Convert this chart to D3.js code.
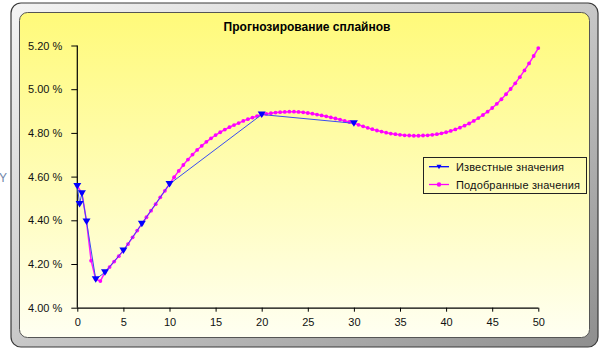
<!DOCTYPE html>
<html><head><meta charset="utf-8">
<script src="https://cdn.jsdelivr.net/npm/d3@7"></script>
<style>
html,body{margin:0;padding:0;background:#fff;}
svg{display:block;font-family:"Liberation Sans",Arial,sans-serif;}
</style></head>
<body>
<svg id="c" width="608" height="349"></svg>
<script>
const title = "Прогнозирование сплайнов";
const seriesNames = ["Известные значения", "Подобранные значения"];
const knownX = [0, 0.25, 0.5, 1, 2, 3, 5, 7, 10, 20, 30];
const knownY = [4.557, 4.475, 4.524, 4.395, 4.130, 4.162, 4.262, 4.384, 4.566, 4.884, 4.844];
const fitX = [0,0.5,1,1.5,2,2.5,3,3.5,4,4.5,5,5.5,6,6.5,7,7.5,8,8.5,9,9.5,10,10.5,11,11.5,12,12.5,13,13.5,14,14.5,15,15.5,16,16.5,17,17.5,18,18.5,19,19.5,20,20.5,21,21.5,22,22.5,23,23.5,24,24.5,25,25.5,26,26.5,27,27.5,28,28.5,29,29.5,30,30.5,31,31.5,32,32.5,33,33.5,34,34.5,35,35.5,36,36.5,37,37.5,38,38.5,39,39.5,40,40.5,41,41.5,42,42.5,43,43.5,44,44.5,45,45.5,46,46.5,47,47.5,48,48.5,49,49.5,50];
const fitY = [4.557,4.524,4.395,4.215,4.130,4.122,4.162,4.186,4.211,4.236,4.262,4.291,4.322,4.353,4.384,4.414,4.444,4.474,4.505,4.535,4.566,4.597,4.626,4.653,4.678,4.701,4.722,4.741,4.759,4.775,4.790,4.803,4.815,4.826,4.836,4.845,4.855,4.863,4.870,4.877,4.883,4.887,4.890,4.893,4.895,4.896,4.897,4.897,4.896,4.894,4.891,4.888,4.884,4.880,4.876,4.871,4.866,4.861,4.855,4.850,4.844,4.837,4.830,4.823,4.817,4.811,4.806,4.801,4.797,4.794,4.791,4.789,4.788,4.787,4.787,4.788,4.789,4.791,4.794,4.798,4.803,4.809,4.816,4.824,4.833,4.843,4.855,4.868,4.882,4.897,4.914,4.933,4.954,4.977,5.001,5.027,5.055,5.086,5.118,5.152,5.188];
const xTicks = [0,5,10,15,20,25,30,35,40,45,50];
const yTicks = [4.0,4.2,4.4,4.6,4.8,5.0,5.2];

const svg = d3.select("#c");
const defs = svg.append("defs");
const fg = defs.append("linearGradient").attr("id","frameG").attr("x1",0).attr("y1",0).attr("x2",1).attr("y2",1);
fg.append("stop").attr("offset","0%").attr("stop-color","#f4f4f4");
fg.append("stop").attr("offset","50%").attr("stop-color","#c8c8c8");
fg.append("stop").attr("offset","100%").attr("stop-color","#8e8e8e");
const yg = defs.append("linearGradient").attr("id","plotG").attr("x1",0).attr("y1",0).attr("x2",0).attr("y2",1);
yg.append("stop").attr("offset","0%").attr("stop-color","#fffa7a");
yg.append("stop").attr("offset","55%").attr("stop-color","#fffdba");
yg.append("stop").attr("offset","100%").attr("stop-color","#fffff2");

// cut off label outside frame
svg.append("text").attr("x",-1).attr("y",182).attr("font-size",12).attr("fill","#6f86a8").text("Y");

// frame
svg.append("rect").attr("x",11).attr("y",3).attr("width",587).attr("height",344).attr("rx",10)
  .attr("fill","url(#frameG)").attr("stroke","#3a3a3a").attr("stroke-width",1.2);
svg.append("rect").attr("x",19.5).attr("y",12.5).attr("width",570).attr("height",325).attr("rx",8)
  .attr("fill","url(#plotG)").attr("stroke","#555").attr("stroke-width",1);

// title
svg.append("text").attr("x",307).attr("y",31).attr("text-anchor","middle")
  .attr("font-size",12).attr("font-weight","bold").attr("fill","#000").text(title);

const x = d3.scaleLinear().domain([0,50]).range([77.3,538.3]);
const y = d3.scaleLinear().domain([4.0,5.2]).range([307.7,45.5]);

const yAxis = svg.append("g").attr("transform","translate(77.3,0)")
  .call(d3.axisLeft(y).tickValues(yTicks).tickSize(6).tickPadding(9).tickFormat(d=>d.toFixed(2)+" %"));
const xAxis = svg.append("g").attr("transform","translate(0,307.7)")
  .call(d3.axisBottom(x).tickValues(xTicks).tickSize(4).tickPadding(7).tickFormat(d3.format("d")));
[yAxis,xAxis].forEach(a=>{
  a.select(".domain").attr("stroke","#000").attr("stroke-width",1.2);
  a.selectAll(".tick line").attr("stroke","#000");
  a.selectAll(".tick text").attr("font-size",11).attr("fill","#111").attr("font-family","'Liberation Sans',Arial,sans-serif");
});
xAxis.select(".domain").attr("d","M77.3,0.5H538.3");
yAxis.select(".domain").attr("d","M0,307.7V45.5");

// fitted series
const fit = fitX.map((v,i)=>[v,fitY[i]]);
svg.append("path").datum(fit).attr("fill","none").attr("stroke","#ff1aff").attr("stroke-width",1.5)
  .attr("d",d3.line().x(d=>x(d[0])).y(d=>y(d[1])));
svg.append("g").selectAll("circle").data(fit).join("circle")
  .attr("cx",d=>x(d[0])).attr("cy",d=>y(d[1])).attr("r",1.9).attr("fill","#ff00ff");

// known series
const known = knownX.map((v,i)=>[v,knownY[i]]);
svg.append("path").datum(known).attr("fill","none").attr("stroke","#3a4cf2").attr("stroke-width",1)
  .attr("d",d3.line().x(d=>x(d[0])).y(d=>y(d[1])));
const tri = "M-4,-3L4,-3L0,3.5Z";
svg.append("g").selectAll("path").data(known).join("path")
  .attr("transform",d=>`translate(${x(d[0])},${y(d[1])})`).attr("d",tri).attr("fill","#0000ff");

// legend
const lg = svg.append("g");
lg.append("rect").attr("x",423.5).attr("y",157.5).attr("width",163).attr("height",36)
  .attr("fill","none").attr("stroke","#222").attr("stroke-width",1);
const rows = [{y:166.7,c:"#0000ff",t:seriesNames[0],m:"tri"},{y:184.5,c:"#ff00ff",t:seriesNames[1],m:"dot"}];
rows.forEach(r=>{
  lg.append("line").attr("x1",429).attr("x2",449).attr("y1",r.y).attr("y2",r.y).attr("stroke",r.c).attr("stroke-width",1.3);
  if(r.m==="tri") lg.append("path").attr("transform",`translate(439,${r.y})`).attr("d","M-2.5,-2L2.5,-2L0,2.5Z").attr("fill",r.c);
  else lg.append("circle").attr("cx",439).attr("cy",r.y).attr("r",2.2).attr("fill",r.c);
  lg.append("text").attr("x",456).attr("y",r.y+4).attr("font-size",11).attr("fill","#111")
    .attr("letter-spacing","0.15").text(r.t);
});
</script>
</body></html>
